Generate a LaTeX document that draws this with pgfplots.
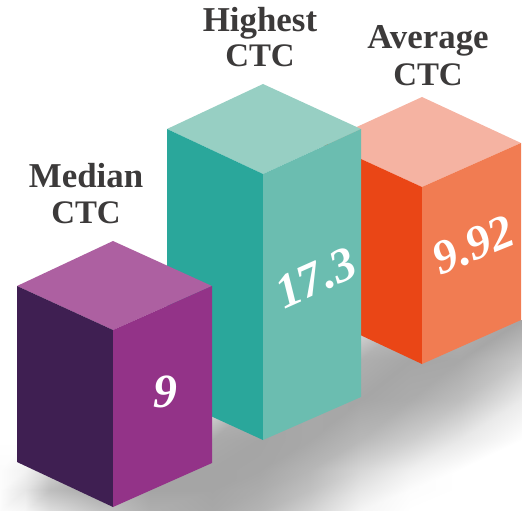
\documentclass[border=0pt]{standalone}
\usepackage{fontspec}
\setmainfont{Liberation Serif}
\usepackage{pgfplots}
\pgfplotsset{compat=1.18}
\definecolor{pl}{HTML}{3F1F52}\definecolor{pr}{HTML}{933388}\definecolor{pt}{HTML}{AD60A1}
\definecolor{tl}{HTML}{2AA79B}\definecolor{tr}{HTML}{6BBDB0}\definecolor{tt}{HTML}{97CFC3}
\definecolor{ol}{HTML}{EA4616}\definecolor{or}{HTML}{F17C52}\definecolor{ot}{HTML}{F5B3A2}
\definecolor{lab}{HTML}{3C3A3A}
\begin{document}
\begin{tikzpicture}
\begin{axis}[scale only axis,width=522bp,height=511bp,hide axis,
  xmin=0,xmax=522,ymin=0,ymax=511,y dir=reverse,
  colormap={gg}{gray(0cm)=(0);gray(1cm)=(1)},point meta min=0,point meta max=255]
\path (axis cs:0,0) -- (axis cs:522,511);
\addplot[surf,shader=interp,mesh/cols=12,mesh/ordering=x varies,point meta=\thisrow{g}] table {
x y g
0 320 255
25 320 255
50 320 255
100 320 255
150 320 255
212 320 255
260 320 255
310 320 255
360 320 230
410 320 190
460 320 180
522 320 165
0 360 255
25 360 255
50 360 255
100 360 255
150 360 255
212 360 255
260 360 255
310 360 200
360 360 175
410 360 166
460 360 168
522 360 200
0 400 255
25 400 255
50 400 255
100 400 255
150 400 255
212 400 230
260 400 180
310 400 168
360 400 166
410 400 172
460 400 190
522 400 235
0 440 255
25 440 255
50 440 245
100 440 215
150 440 190
212 440 170
260 440 165
310 440 168
360 440 184
410 440 205
460 440 232
522 440 255
0 470 252
25 470 242
50 470 210
100 470 172
150 470 165
212 470 165
260 470 166
310 470 182
360 470 214
410 470 240
460 470 255
522 470 255
0 490 252
25 490 230
50 490 190
100 490 166
150 490 165
212 490 165
260 490 172
310 490 192
360 490 230
410 490 252
460 490 255
522 490 255
0 511 252
25 511 246
50 511 222
100 511 195
150 511 175
212 511 168
260 511 180
310 511 210
360 511 245
410 511 255
460 511 255
522 511 255
};
% Average CTC
\addplot[fill=ot,draw=none] coordinates {(422,97)(521,143)(422,187)(324,142)} --cycle;
\addplot[fill=ol,draw=none] coordinates {(324,142)(422,187)(422,364)(324,318)} --cycle;
\addplot[fill=or,draw=none] coordinates {(422,187)(521,143)(521,320)(422,364)} --cycle;
% Highest CTC
\addplot[fill=tt,draw=none] coordinates {(263,84)(361,129)(263,174)(167,129)} --cycle;
\addplot[fill=tl,draw=none] coordinates {(167,129)(263,174)(263,440)(167,396)} --cycle;
\addplot[fill=tr,draw=none] coordinates {(263,174)(361,129)(361,397)(263,440)} --cycle;
% Median CTC
\addplot[fill=pt,draw=none] coordinates {(113,241)(212,286)(113,330)(17,286)} --cycle;
\addplot[fill=pl,draw=none] coordinates {(17,286)(113,330)(113,507)(17,462)} --cycle;
\addplot[fill=pr,draw=none] coordinates {(113,330)(212,286)(212,463)(113,507)} --cycle;
\tikzset{lb/.style={font=\fontsize{35}{35}\selectfont\bfseries,text=lab,anchor=center,inner sep=0pt},
 cc/.style={font=\fontsize{33}{33}\selectfont\bfseries,text=lab,anchor=center,inner sep=0pt},
 vl/.style={font=\fontsize{48}{48}\selectfont\bfseries\itshape,text=white,anchor=center,inner sep=0pt}}
\node[lb] at (axis cs:86,176) {Median};
\node[cc] at (axis cs:86,213) {CTC};
\node[lb] at (axis cs:260,23) {Highest};
\node[cc] at (axis cs:260,56) {CTC};
\node[lb] at (axis cs:428,41) {Average};
\node[cc] at (axis cs:428,75) {CTC};
\node[vl] at (axis cs:165,392) {9};
\node[vl,rotate=24] at (axis cs:316,278) {17.3};
\node[vl,rotate=22] at (axis cs:473,245) {9.92};
\end{axis}
\end{tikzpicture}
\end{document}
